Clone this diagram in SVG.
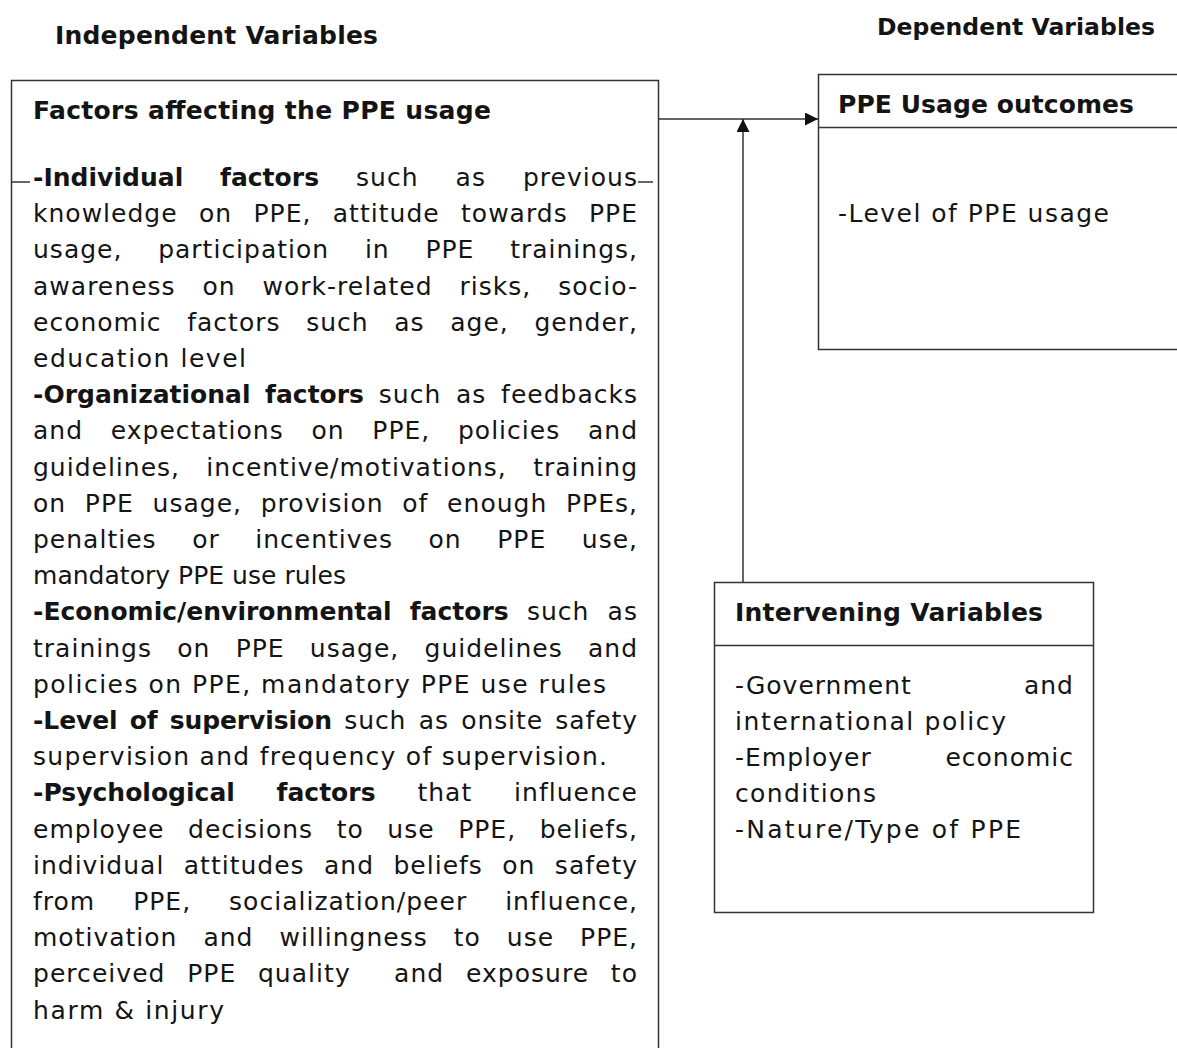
<svg xmlns="http://www.w3.org/2000/svg" width="1177" height="1048" viewBox="0 0 1177 1048">
<style>
text{font-family:"DejaVu Sans","Liberation Sans",sans-serif;font-size:25px;fill:#141414;letter-spacing:1px}
.b{font-weight:bold;letter-spacing:0}
.hd{font-weight:bold;letter-spacing:0}
.box{fill:#fff;stroke:#333;stroke-width:1.5}
.ln{stroke:#333;stroke-width:1.5;fill:none}
</style>
<defs>
<marker id="ah" viewBox="0 0 10 10" refX="10" refY="5" markerWidth="14" markerHeight="13" markerUnits="userSpaceOnUse" orient="auto">
<path d="M0,0 L10,5 L0,10 z" fill="#111"/>
</marker>
</defs>
<rect width="1177" height="1048" fill="#fff"/>

<g id="labels">
<text class="hd" x="55" y="44" textLength="323">Independent Variables</text>
<text class="hd" x="877" y="35" style="font-size:23.5px" textLength="278">Dependent Variables</text>
</g>

<g id="independent">
<rect class="box" x="11.5" y="80.5" width="647" height="1000"/>
<line class="ln" x1="12" y1="182" x2="30" y2="182"/>
<line class="ln" x1="638" y1="182" x2="653" y2="182"/>
<text class="b" x="33" y="119" textLength="458">Factors affecting the PPE usage</text>
<text x="33" y="186" textLength="605" style="word-spacing:28px"><tspan class="b">-Individual factors</tspan> such as previous</text>
<text x="33" y="222.2" textLength="605" style="word-spacing:12.4px">knowledge on PPE, attitude towards PPE</text>
<text x="33" y="258.4" textLength="605" style="word-spacing:26.8px">usage, participation in PPE trainings,</text>
<text x="33" y="294.6" textLength="605" style="word-spacing:17.9px">awareness on work-related risks, socio-</text>
<text x="33" y="330.8" textLength="605" style="word-spacing:16.7px">economic factors such as age, gender,</text>
<text x="33" y="367" textLength="214">education level</text>
<text x="33" y="403.2" textLength="605" style="word-spacing:5.8px"><tspan class="b">-Organizational factors</tspan> such as feedbacks</text>
<text x="33" y="439.4" textLength="605" style="word-spacing:18.7px">and expectations on PPE, policies and</text>
<text x="33" y="475.6" textLength="605" style="word-spacing:17.4px">guidelines, incentive/motivations, training</text>
<text x="33" y="511.8" textLength="605" style="word-spacing:9.7px">on PPE usage, provision of enough PPEs,</text>
<text x="33" y="548" textLength="605" style="word-spacing:26.6px">penalties or incentives on PPE use,</text>
<text x="33" y="584.2" textLength="314">mandatory PPE use rules</text>
<text x="33" y="620.4" textLength="605" style="word-spacing:9.2px"><tspan class="b">-Economic/environmental factors</tspan> such as</text>
<text x="33" y="656.6" textLength="605" style="word-spacing:16.3px">trainings on PPE usage, guidelines and</text>
<text x="33" y="692.8" textLength="574">policies on PPE, mandatory PPE use rules</text>
<text x="33" y="729" textLength="605" style="word-spacing:3.5px"><tspan class="b">-Level of supervision</tspan> such as onsite safety</text>
<text x="33" y="765.2" textLength="575">supervision and frequency of supervision.</text>
<text x="33" y="801.4" textLength="605" style="word-spacing:32.9px"><tspan class="b">-Psychological factors</tspan> that influence</text>
<text x="33" y="837.6" textLength="605" style="word-spacing:14.6px">employee decisions to use PPE, beliefs,</text>
<text x="33" y="873.8" textLength="605" style="word-spacing:10.5px">individual attitudes and beliefs on safety</text>
<text x="33" y="910" textLength="605" style="word-spacing:29px">from PPE, socialization/peer influence,</text>
<text x="33" y="946.2" textLength="605" style="word-spacing:17.1px">motivation and willingness to use PPE,</text>
<text x="33" y="982.4" textLength="605" xml:space="preserve" style="word-spacing:12.7px">perceived PPE quality  and exposure to</text>
<text x="33" y="1018.6" textLength="192">harm &amp; injury</text>
</g>

<g id="dependent">
<rect class="box" x="818.5" y="74.5" width="420" height="275"/>
<line class="ln" x1="818" y1="127.5" x2="1177" y2="127.5"/>
<text class="b" x="838" y="113" textLength="296">PPE Usage outcomes</text>
<text x="838" y="222" textLength="272">-Level of PPE usage</text>
</g>

<g id="intervening">
<rect class="box" x="714.5" y="582.5" width="379" height="330"/>
<line class="ln" x1="714" y1="645.5" x2="1094" y2="645.5"/>
<text class="b" x="735" y="621" textLength="308">Intervening Variables</text>
<text x="735" y="694">-Government</text>
<text x="1074" y="694" text-anchor="end">and</text>
<text x="735" y="730" textLength="272">international policy</text>
<text x="735" y="766">-Employer</text>
<text x="1074" y="766" text-anchor="end">economic</text>
<text x="735" y="802" textLength="142">conditions</text>
<text x="735" y="838" textLength="287">-Nature/Type of PPE</text>
</g>

<g id="connectors">
<line class="ln" x1="658" y1="119" x2="818" y2="119" marker-end="url(#ah)"/>
<line class="ln" x1="743" y1="582" x2="743" y2="119" marker-end="url(#ah)"/>
</g>
</svg>
